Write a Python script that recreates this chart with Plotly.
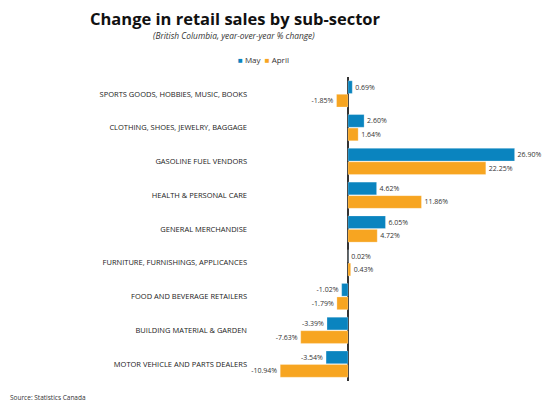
import plotly.graph_objects as go

# sub-sectors, top to bottom
categories = [
    "SPORTS GOODS, HOBBIES, MUSIC, BOOKS",
    "CLOTHING, SHOES, JEWELRY, BAGGAGE",
    "GASOLINE FUEL VENDORS",
    "HEALTH & PERSONAL CARE",
    "GENERAL MERCHANDISE",
    "FURNITURE, FURNISHINGS, APPLICANCES",
    "FOOD AND BEVERAGE RETAILERS",
    "BUILDING MATERIAL & GARDEN",
    "MOTOR VEHICLE AND PARTS DEALERS",
]
may_values = [0.69, 2.60, 26.90, 4.62, 6.05, 0.02, -1.02, -3.39, -3.54]
april_values = [-1.85, 1.64, 22.25, 11.86, 4.72, 0.43, -1.79, -7.63, -10.94]

MAY_COLOR = "#0a84bf"
APRIL_COLOR = "#f7a521"
FONT = "Open Sans"

# plot area in figure pixels (page adds ~8px body margin)
PL, PT, PW, PH = 244, 69, 288, 304


def px(x):
    return (x - 8 - PL) / PW


def py(y):
    return (PT + PH - (y - 8)) / PH


fig = go.Figure()
for name, vals, color in [("May", may_values, MAY_COLOR), ("April", april_values, APRIL_COLOR)]:
    fig.add_trace(
        go.Bar(
            y=categories,
            x=vals,
            name=name,
            orientation="h",
            marker=dict(color=color, line=dict(color="rgba(255,255,255,0.5)", width=0.5)),
            text=[f"{v:.2f}%" for v in vals],
            textposition="outside",
            textfont=dict(size=7, color="#333333", family=FONT),
            cliponaxis=False,
            showlegend=False,
        )
    )

legend_text = (
    f"<span style='color:{MAY_COLOR}'>■</span> May  "
    f"<span style='color:{APRIL_COLOR}'>■</span> April"
)

fig.update_layout(
    width=560,
    height=406,
    paper_bgcolor="white",
    plot_bgcolor="white",
    margin=dict(l=PL, r=560 - PL - PW, t=PT, b=406 - PT - PH),
    barmode="group",
    bargap=0.2,
    bargroupgap=0.06,
    font=dict(family=FONT, color="#333333"),
    annotations=[
        dict(
            text="<b>Change in retail sales by sub-sector</b>",
            x=px(235), y=py(18),
            xref="paper", yref="paper", yanchor="middle", xanchor="center",
            showarrow=False, font=dict(size=16.5, color="#111111", family=FONT, weight=800),
        ),
        dict(
            text="<i>(British Columbia, year-over-year % change)</i>",
            x=px(234), y=py(35.5),
            xref="paper", yref="paper", yanchor="middle", xanchor="center",
            showarrow=False, font=dict(size=8.4, color="#333333", family=FONT),
        ),
        dict(
            text=legend_text,
            x=px(236), y=py(60),
            xref="paper", yref="paper", yanchor="middle", xanchor="left",
            showarrow=False, font=dict(size=8, color="#333333", family=FONT),
        ),
        dict(
            text="Source: Statistics Canada",
            x=px(8), y=py(397),
            xref="paper", yref="paper", yanchor="middle", xanchor="left",
            showarrow=False, font=dict(size=6.5, color="#333333", family=FONT),
        ),
    ],
)

fig.update_xaxes(
    range=[-15.5, 31],
    showgrid=False,
    showticklabels=False,
    zeroline=True,
    zerolinecolor="#333333",
    zerolinewidth=1.5,
)
fig.update_yaxes(
    autorange="reversed",
    showgrid=False,
    ticks="",
    tickfont=dict(size=7.5, color="#222222"),
    ticklabelstandoff=4,
)

fig.write_html("out.html")
